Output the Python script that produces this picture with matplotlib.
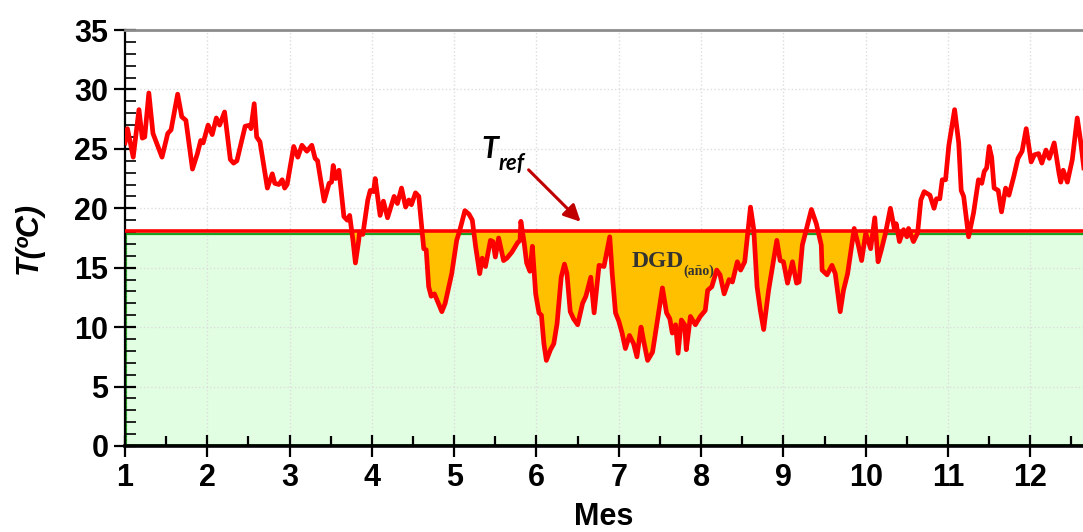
import matplotlib

matplotlib.use("Agg")
import matplotlib.pyplot as plt
import numpy as np

# Daily-ish temperature trace (month, degC)
months = [
    1.00, 1.03, 1.10, 1.17, 1.21, 1.24, 1.29, 1.34, 1.45, 1.52, 1.56, 1.64, 1.69, 1.74,
    1.82, 1.88, 1.92, 1.95, 2.01, 2.06, 2.11, 2.15, 2.21, 2.28, 2.32, 2.36, 2.46, 2.52,
    2.53, 2.57, 2.60, 2.64, 2.73, 2.79, 2.82, 2.87, 2.91, 2.94, 2.97, 3.05, 3.10, 3.15,
    3.21, 3.27, 3.31, 3.34, 3.42, 3.48, 3.51, 3.53, 3.56, 3.60, 3.66, 3.70, 3.73, 3.77,
    3.80, 3.84, 3.85, 3.89, 3.95, 3.98, 4.02, 4.04, 4.10, 4.14, 4.19, 4.27, 4.31, 4.36,
    4.41, 4.45, 4.48, 4.53, 4.57, 4.63, 4.66, 4.69, 4.72, 4.76, 4.85, 4.89, 4.97, 5.03,
    5.07, 5.13, 5.18, 5.22, 5.26, 5.31, 5.34, 5.38, 5.44, 5.47, 5.50, 5.54, 5.60, 5.64,
    5.70, 5.77, 5.80, 5.81, 5.85, 5.88, 5.92, 5.95, 5.99, 6.03, 6.06, 6.09, 6.12, 6.17,
    6.21, 6.25, 6.30, 6.34, 6.37, 6.41, 6.45, 6.50, 6.56, 6.60, 6.66, 6.70, 6.76, 6.82,
    6.89, 6.92, 6.96, 7.00, 7.04, 7.08, 7.13, 7.18, 7.22, 7.27, 7.30, 7.35, 7.41, 7.47,
    7.53, 7.58, 7.62, 7.65, 7.69, 7.72, 7.76, 7.80, 7.82, 7.87, 7.93, 7.99, 8.05, 8.08,
    8.13, 8.19, 8.23, 8.28, 8.34, 8.38, 8.44, 8.48, 8.53, 8.60, 8.64, 8.68, 8.72, 8.76,
    8.82, 8.92, 8.96, 9.00, 9.05, 9.11, 9.16, 9.19, 9.23, 9.34, 9.40, 9.46, 9.47, 9.53,
    9.59, 9.63, 9.69, 9.73, 9.78, 9.86, 9.91, 9.95, 10.00, 10.06, 10.11, 10.15, 10.19, 10.24,
    10.30, 10.35, 10.37, 10.41, 10.46, 10.50, 10.52, 10.58, 10.63, 10.67, 10.71, 10.78, 10.83, 10.86,
    10.90, 10.93, 10.97, 11.01, 11.08, 11.13, 11.16, 11.19, 11.25, 11.31, 11.37, 11.41, 11.44, 11.47,
    11.50, 11.53, 11.56, 11.61, 11.65, 11.70, 11.74, 11.80, 11.85, 11.90, 11.95, 12.01, 12.05, 12.10,
    12.14, 12.19, 12.23, 12.29, 12.35, 12.37, 12.40, 12.45, 12.51, 12.57, 12.61, 12.65,
]
temps = [
    25.5, 26.7, 24.3, 28.3, 25.9, 26.0, 29.7, 26.3, 24.3, 26.3, 26.6, 29.6, 27.7, 27.4,
    23.3, 24.6, 25.7, 25.5, 27.0, 26.2, 27.6, 27.0, 28.1, 24.1, 23.8, 24.0, 26.9, 27.0,
    26.7, 28.8, 26.0, 25.6, 21.7, 22.9, 22.1, 22.0, 22.4, 21.7, 22.0, 25.2, 24.3, 25.3,
    24.8, 25.3, 24.2, 24.0, 20.6, 22.1, 22.2, 23.6, 22.5, 23.2, 19.3, 19.0, 19.4, 17.3,
    15.4, 17.3, 18.0, 17.8, 20.7, 21.5, 21.4, 22.5, 19.4, 20.6, 19.2, 21.0, 20.4, 21.7,
    20.1, 20.7, 20.3, 21.3, 21.0, 16.6, 16.5, 13.4, 12.6, 12.8, 11.3, 12.0, 14.5, 17.3,
    18.2, 19.8, 19.5, 19.0, 16.8, 14.5, 15.8, 15.1, 17.3, 17.2, 15.9, 17.5, 15.6, 15.8,
    16.3, 17.1, 17.3, 18.9, 17.1, 15.4, 14.7, 16.8, 12.8, 11.2, 11.0, 8.6, 7.2, 8.1,
    8.6, 10.3, 14.2, 15.3, 14.5, 11.3, 10.7, 10.2, 12.0, 12.6, 14.2, 11.2, 15.2, 15.1,
    17.6, 14.5, 11.2, 10.5, 9.5, 8.2, 9.3, 8.6, 7.5, 10.0, 8.9, 7.2, 7.9, 10.6,
    13.3, 11.2, 10.7, 9.5, 10.2, 7.8, 10.6, 10.2, 8.1, 10.9, 10.2, 10.9, 11.4, 13.1,
    13.4, 14.8, 14.4, 12.8, 14.0, 13.8, 15.5, 14.8, 15.5, 20.1, 18.2, 13.4, 11.4, 9.8,
    13.1, 17.3, 15.6, 15.5, 13.7, 15.5, 13.7, 13.8, 16.9, 19.9, 18.7, 16.9, 14.8, 14.4,
    15.2, 14.5, 11.3, 13.1, 14.5, 18.3, 16.9, 15.6, 17.9, 16.6, 19.2, 15.5, 16.5, 17.9,
    20.0, 18.2, 18.7, 17.2, 18.2, 17.6, 18.3, 17.2, 17.9, 20.7, 21.4, 21.1, 20.0, 20.8,
    20.8, 22.4, 22.4, 25.3, 28.3, 25.5, 21.5, 21.0, 17.6, 19.6, 22.4, 22.1, 23.1, 23.4,
    25.2, 24.3, 21.7, 21.5, 19.7, 21.7, 21.1, 22.7, 24.2, 24.8, 26.7, 23.9, 24.5, 24.6,
    23.8, 24.9, 24.2, 25.5, 22.9, 22.2, 23.2, 22.2, 24.1, 27.6, 25.7, 23.4,
]
t_ref = 18.0
x_ticks = list(range(1, 13))
y_ticks = [0, 5, 10, 15, 20, 25, 30, 35]

TICK_FONT = ["Liberation Sans Narrow", "Liberation Sans", "DejaVu Sans"]

fig = plt.figure(figsize=(10.83, 5.32), dpi=100)
ax = fig.add_axes([0.1154, 0.1617, 0.8846, 0.7819])

m = np.asarray(months)
t = np.asarray(temps)

# heating region below the reference temperature
ax.axhspan(0, t_ref, facecolor="#E2FEE2", lw=0, zorder=1)
ax.axhline(t_ref - 0.15, color="#1E9E1E", lw=1.6, zorder=1.5)
ax.axvline(1.0, ymin=0, ymax=t_ref / 35, color="#1E9E1E", lw=3.0, zorder=1.5)
ax.axhline(0.1, color="#1E9E1E", lw=2.0, zorder=1.5)
ax.fill_between(m, t, t_ref, where=t < t_ref, interpolate=True,
                color="#FFC000", lw=0, zorder=2)
ax.axhline(t_ref + 0.1, color="#FF0000", lw=2.6, zorder=3)
ax.plot(m, t, color="#FF0000", lw=3.4, solid_joinstyle="round", zorder=4)

ax.set_xlim(1, 12.64)
ax.set_ylim(0, 35)
ax.set_xticks(x_ticks)
ax.set_yticks(y_ticks)
ax.set_xticks(np.arange(1.5, 12.6, 1.0), minor=True)
ax.set_yticks(np.arange(0, 36, 1), minor=True)
ax.grid(True, which="major", color="#DDDDDD", ls=":", lw=1.0, zorder=0)

ax.tick_params(which="major", direction="inout", length=16, width=1.6, color="black")
ax.tick_params(axis="x", which="minor", direction="in", length=7, width=1.6)
ax.tick_params(axis="y", which="minor", direction="in", length=8, width=1.2)
ax.tick_params(labelsize=22, pad=4)
for lab in ax.get_xticklabels() + ax.get_yticklabels():
    lab.set_family(TICK_FONT)
    lab.set_fontweight("bold")

ax.spines["right"].set_visible(False)
ax.spines["top"].set_color("#8C8C8C")
ax.spines["top"].set_linewidth(2.0)
ax.spines["left"].set_linewidth(1.6)
ax.spines["bottom"].set_linewidth(2.6)
ax.spines["bottom"].set_zorder(6)

ax.set_xlabel("Mes", family=TICK_FONT, fontsize=22, fontweight="bold", labelpad=7)
ax.set_ylabel("T(ºC)", family=TICK_FONT, fontsize=22, fontweight="bold",
              style="italic", labelpad=22)

# annotations
ax.annotate("", xy=(6.56, 18.7), xytext=(5.88, 23.4),
            arrowprops=dict(arrowstyle="-|>,head_length=1.0,head_width=0.5",
                            color="#C00000", lw=2.2), zorder=5)
t1 = ax.text(5.33, 24.2, "T", family=["Lato", "DejaVu Sans"], fontsize=22,
             fontweight="bold", style="italic", va="baseline", zorder=5)
ax.annotate("ref", xy=(1, 0), xycoords=t1, xytext=(0, -5), textcoords="offset points",
            family=["Lato", "DejaVu Sans"], fontsize=16, fontweight="bold",
            style="italic", va="baseline", zorder=5)
d1 = ax.text(7.15, 15.05, "DGD", family=["Liberation Serif", "DejaVu Serif"],
             fontsize=17, fontweight="bold", color="#333333", va="baseline", zorder=5)
ax.annotate("(año)", xy=(1, 0), xycoords=d1, xytext=(0, -2), textcoords="offset points",
            family=["Liberation Serif", "DejaVu Serif"], fontsize=10,
            fontweight="bold", color="#333333", va="baseline", zorder=5)

fig.savefig("out.png", dpi=100)
